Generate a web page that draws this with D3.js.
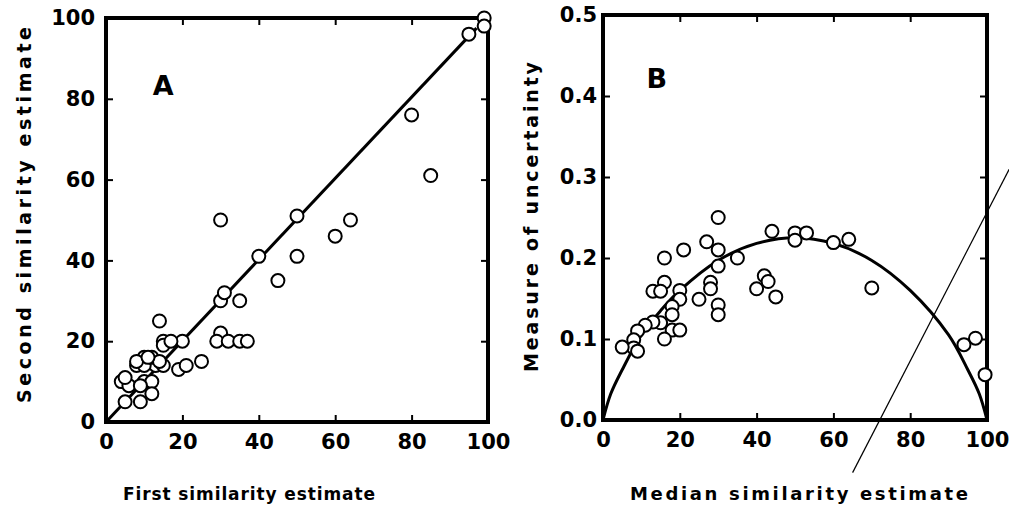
<!DOCTYPE html>
<html>
<head>
<meta charset="utf-8">
<script src="https://cdn.jsdelivr.net/npm/d3@7"></script>
<style>
  body { margin: 0; background: #fff; }
  text { font-family: 'DejaVu Sans', sans-serif; font-weight: bold; fill: #000; }
</style>
</head>
<body>
<div id="chart"></div>
<script>
// panel A data
const firstEstimate = [99, 99, 95, 80, 85, 30, 50, 64, 60, 40, 50, 45, 30, 31, 35, 14, 30, 29, 32, 35, 37, 20, 15, 15, 17, 25, 19, 21, 13, 10, 8, 10, 15, 12, 4, 6, 5, 10, 12, 12, 9, 5, 9, 14, 8, 11]
const secondEstimate = [100, 98, 96, 76, 61, 50, 51, 50, 46, 41, 41, 35, 30, 32, 30, 25, 22, 20, 20, 20, 20, 20, 20, 19, 20, 15, 13, 14, 14, 16, 14, 14, 14, 16, 10, 9, 11, 10, 10, 7, 5, 5, 9, 15, 15, 16]
const lineAx = [0, 97]
const lineAy = [0, 97.5]

// panel B data
const medianEstimate = [30, 27, 30, 21, 16, 35, 44, 50, 53, 50, 60, 64, 30, 28, 28, 25, 30, 30, 20, 20, 16, 13, 15, 18, 18, 18, 20, 16, 15, 13, 11, 9, 8, 8, 9, 5, 40, 42, 43, 45, 70, 94, 97, 99.5]
const uncertainty = [0.25, 0.22, 0.21, 0.21, 0.20, 0.20, 0.233, 0.231, 0.231, 0.222, 0.219, 0.223, 0.19, 0.17, 0.162, 0.149, 0.142, 0.13, 0.16, 0.149, 0.17, 0.159, 0.159, 0.14, 0.13, 0.111, 0.111, 0.10, 0.12, 0.121, 0.117, 0.11, 0.099, 0.089, 0.085, 0.09, 0.162, 0.178, 0.171, 0.152, 0.163, 0.093, 0.101, 0.056]
const curveBx = [0, 2, 5, 10, 15, 20, 30, 40, 50, 60, 70, 80, 90, 95, 98, 100]
const curveBy = [0, 0.032, 0.062, 0.105, 0.135, 0.16, 0.197, 0.218, 0.225, 0.218, 0.197, 0.16, 0.105, 0.062, 0.032, 0]
// stray pen stroke across panel B (data coordinates)
const strokeBx = [108, 65]
const strokeBy = [0.33, -0.065]

// ticks
const ticksA = [0, 20, 40, 60, 80, 100]
const ticksBx = [0, 20, 40, 60, 80, 100]
const ticksBy = [0, 0.1, 0.2, 0.3, 0.4, 0.5]

const width = 1009
const height = 512
const tickFont = "'DejaVu Sans Condensed', 'DejaVu Sans', sans-serif"

const svg = d3
  .select('#chart')
  .append('svg')
  .attr('width', width)
  .attr('height', height)

function drawPanel(opts) {
  const x = d3.scaleLinear().domain(opts.xDomain).range(opts.xRange)
  const y = d3.scaleLinear().domain(opts.yDomain).range(opts.yRange)
  const g = svg.append('g')

  // ticks on all four sides, pointing inward
  const tick = 7
  g.append('g')
    .attr('transform', 'translate(0,' + opts.yRange[0] + ')')
    .call(d3.axisBottom(x).tickValues(opts.xTicks).tickSize(-tick).tickPadding(12).tickFormat(d3.format('d')))
    .call(a => a.select('.domain').remove())
  g.append('g')
    .attr('transform', 'translate(0,' + opts.yRange[1] + ')')
    .call(d3.axisTop(x).tickValues(opts.xTicks.slice(1, -1)).tickSize(-tick).tickFormat(''))
    .call(a => a.select('.domain').remove())
  g.append('g')
    .attr('transform', 'translate(' + opts.xRange[0] + ',0)')
    .call(d3.axisLeft(y).tickValues(opts.yTicks).tickSize(-tick).tickPadding(opts.yPad).tickFormat(opts.yFormat))
    .call(a => a.select('.domain').remove())
  g.append('g')
    .attr('transform', 'translate(' + opts.xRange[1] + ',0)')
    .call(d3.axisRight(y).tickValues(opts.yTicks.slice(1, -1)).tickSize(-tick).tickFormat(''))
    .call(a => a.select('.domain').remove())

  g.selectAll('.tick line').attr('stroke', '#000').attr('stroke-width', 2)
  g.selectAll('.tick text').attr('font-size', 21).attr('font-weight', 'bold')
    .attr('font-family', tickFont)

  // frame
  g.append('rect')
    .attr('x', opts.xRange[0])
    .attr('y', opts.yRange[1])
    .attr('width', opts.xRange[1] - opts.xRange[0])
    .attr('height', opts.yRange[0] - opts.yRange[1])
    .attr('fill', 'none')
    .attr('stroke', '#000')
    .attr('stroke-width', 4)

  // fitted line / curve
  const line = d3.line().x(d => x(d[0])).y(d => y(d[1])).curve(opts.curve)
  g.append('path')
    .datum(opts.fitX.map((v, i) => [v, opts.fitY[i]]))
    .attr('d', line)
    .attr('fill', 'none')
    .attr('stroke', '#000')
    .attr('stroke-width', 3)

  // points
  g.selectAll('circle')
    .data(opts.px.map((v, i) => [v, opts.py[i]]))
    .enter()
    .append('circle')
    .attr('cx', d => x(d[0]))
    .attr('cy', d => y(d[1]))
    .attr('r', 6.5)
    .attr('fill', '#fff')
    .attr('stroke', '#000')
    .attr('stroke-width', 2)

  // panel letter
  g.append('text')
    .attr('x', x(opts.letterAt[0]))
    .attr('y', y(opts.letterAt[1]))
    .attr('font-size', 27)
    .attr('text-anchor', 'middle')
    .text(opts.letter)

  // axis titles
  g.append('text')
    .attr('x', opts.xTitle.cx)
    .attr('y', 500)
    .attr('font-size', opts.xTitle.size)
    .attr('text-anchor', 'middle')
    .attr('textLength', opts.xTitle.len)
    .attr('lengthAdjust', 'spacing')
    .text(opts.xTitle.text)
  g.append('text')
    .attr('transform', 'translate(' + opts.yTitle.cx + ',' + opts.yTitle.cy + ') rotate(-90)')
    .attr('font-size', opts.yTitle.size)
    .attr('text-anchor', 'middle')
    .attr('textLength', opts.yTitle.len)
    .attr('lengthAdjust', 'spacing')
    .text(opts.yTitle.text)

  return { g, x, y }
}

drawPanel({
  xDomain: [0, 100], yDomain: [0, 100],
  xRange: [106, 488], yRange: [422, 18],
  xTicks: ticksA, yTicks: ticksA,
  yFormat: d3.format('d'), yPad: 11,
  fitX: lineAx, fitY: lineAy, curve: d3.curveLinear,
  px: firstEstimate, py: secondEstimate,
  letter: 'A', letterAt: [15, 81],
  xTitle: { text: 'First similarity estimate', cx: 249, len: 252, size: 17 },
  yTitle: { text: 'Second similarity estimate', cx: 31, cy: 215, len: 376, size: 19 }
})

const b = drawPanel({
  xDomain: [0, 100], yDomain: [0, 0.5],
  xRange: [603, 987], yRange: [420, 15],
  xTicks: ticksBx, yTicks: ticksBy,
  yFormat: d3.format('.1f'), yPad: 6,
  fitX: curveBx, fitY: curveBy, curve: d3.curveCatmullRom,
  px: medianEstimate, py: uncertainty,
  letter: 'B', letterAt: [14, 0.41],
  xTitle: { text: 'Median similarity estimate', cx: 799, len: 338, size: 18 },
  yTitle: { text: 'Measure of uncertainty', cx: 538, cy: 217, len: 310, size: 19 }
})

// thin stray stroke in panel B
b.g.append('line')
  .attr('x1', b.x(strokeBx[0]))
  .attr('y1', b.y(strokeBy[0]))
  .attr('x2', b.x(strokeBx[1]))
  .attr('y2', b.y(strokeBy[1]))
  .attr('stroke', '#000')
  .attr('stroke-width', 1.2)
</script>
</body>
</html>
